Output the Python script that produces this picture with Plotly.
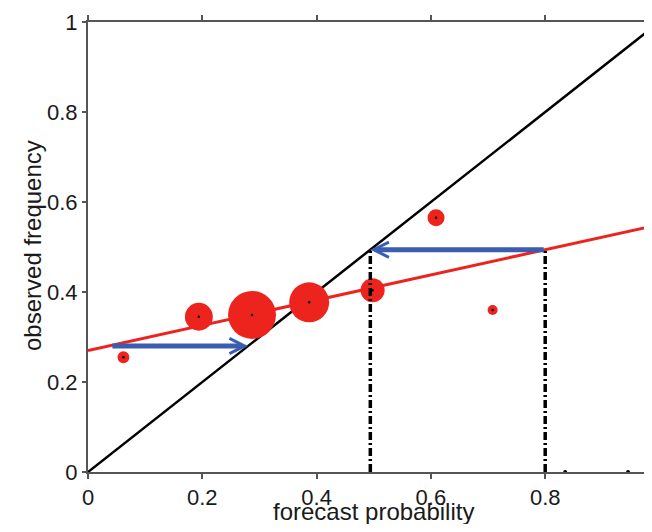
import numpy as np
import plotly.graph_objects as go

# ---- data ----
forecast_prob = [0.062, 0.194, 0.287, 0.387, 0.498, 0.609, 0.708]
observed_freq = [0.255, 0.345, 0.349, 0.377, 0.404, 0.565, 0.360]
bin_counts = [14, 78, 230, 160, 58, 29, 10]
rare_bins = [0.835, 0.945]

reg_intercept = 0.27
reg_slope = 0.28

arrow1_x = [0.04, 0.28]
arrow1_y = 0.28
raw_forecast = 0.80
calibrated = reg_intercept + reg_slope * raw_forecast

x_ticks = [0, 0.2, 0.4, 0.6, 0.8]
x_ticklabels = ["0", "0.2", "0.4", "0.6", "0.8"]
y_ticks = [0, 0.2, 0.4, 0.6, 0.8, 1]
y_ticklabels = ["0", "0.2", "0.4", "0.6", "0.8", "1"]
x_title = "forecast probability"
y_title = "observed frequency"

RED = "#ec241d"
BLUE = "#3a5db2"
FONT = "Liberation Sans, Arial, Helvetica, sans-serif"

# page body has an 8px margin: figure is sized/offset to compensate
W, H = 644, 516
L, T, B = 80, 14, 52
plot_w = W - L
x_max = plot_w / 571.5  # x=1 lies just past the visible right edge

fig = go.Figure()

# diagonal (perfect reliability)
fig.add_trace(go.Scatter(x=[0, 1], y=[0, 1], mode="lines",
                         line=dict(color="black", width=2.5), hoverinfo="skip"))

# regression line
xr = np.array([0.0, 1.0])
fig.add_trace(go.Scatter(x=xr, y=reg_intercept + reg_slope * xr, mode="lines",
                         line=dict(color=RED, width=3), hoverinfo="skip"))

# reliability points
sizes = [3.16 * np.sqrt(c) for c in bin_counts]
fig.add_trace(go.Scatter(x=forecast_prob, y=observed_freq, mode="markers",
                         marker=dict(color=RED, size=sizes, line=dict(width=0), opacity=1),
                         cliponaxis=False, hoverinfo="skip"))
fig.add_trace(go.Scatter(x=forecast_prob, y=observed_freq, mode="markers",
                         marker=dict(color="black", size=2.5), hoverinfo="skip"))

# rare bins on axis
fig.add_trace(go.Scatter(x=rare_bins, y=[0] * len(rare_bins), mode="markers",
                         marker=dict(color="black", size=4), cliponaxis=False, hoverinfo="skip"))

# vertical dash-dot lines
for xv in [calibrated, raw_forecast]:
    fig.add_trace(go.Scatter(x=[xv, xv], y=[0, calibrated], mode="lines",
                             line=dict(color="black", width=3.5, dash="8px,3px,2px,3px"),
                             hoverinfo="skip"))

# arrows
fig.add_annotation(x=arrow1_x[1], y=arrow1_y, ax=arrow1_x[0], ay=arrow1_y,
                   xref="x", yref="y", axref="x", ayref="y", text="",
                   showarrow=True, arrowhead=5, arrowsize=0.6, arrowwidth=5,
                   arrowcolor=BLUE)
fig.add_annotation(x=calibrated, y=calibrated, ax=raw_forecast, ay=calibrated,
                   xref="x", yref="y", axref="x", ayref="y", text="",
                   showarrow=True, arrowhead=5, arrowsize=0.6, arrowwidth=5,
                   arrowcolor=BLUE)

# axis titles
fig.add_annotation(text=x_title, xref="paper", yref="paper", x=(365 - L) / plot_w,
                   y=-(504 - 464) / 450, xanchor="center", yanchor="middle",
                   showarrow=False, font=dict(size=24))
fig.add_annotation(text=y_title, xref="paper", yref="paper", x=(24 - L) / plot_w,
                   y=(464 - 238) / 450, xanchor="center", yanchor="middle",
                   textangle=-90, showarrow=False, font=dict(size=24))

fig.update_layout(
    width=W, height=H,
    margin=dict(l=L, r=0, t=T, b=B, autoexpand=False),
    paper_bgcolor="white", plot_bgcolor="white",
    showlegend=False,
    font=dict(family=FONT, size=22, color="#1a1a1a"),
    xaxis=dict(range=[0, x_max], tickvals=x_ticks, ticktext=x_ticklabels,
               automargin=False,
               showgrid=False, zeroline=False, showline=True, linecolor="#555", linewidth=2,
               mirror="ticks", ticks="outside", ticklen=5, tickcolor="#555", tickwidth=1.5),
    yaxis=dict(range=[0, 1], tickvals=y_ticks, ticktext=y_ticklabels,
               automargin=False,
               showgrid=False, zeroline=False, showline=True, linecolor="#555", linewidth=2,
               ticks="outside", ticklen=4, tickcolor="#555", tickwidth=1.5),
)

fig.write_html("out.html")
